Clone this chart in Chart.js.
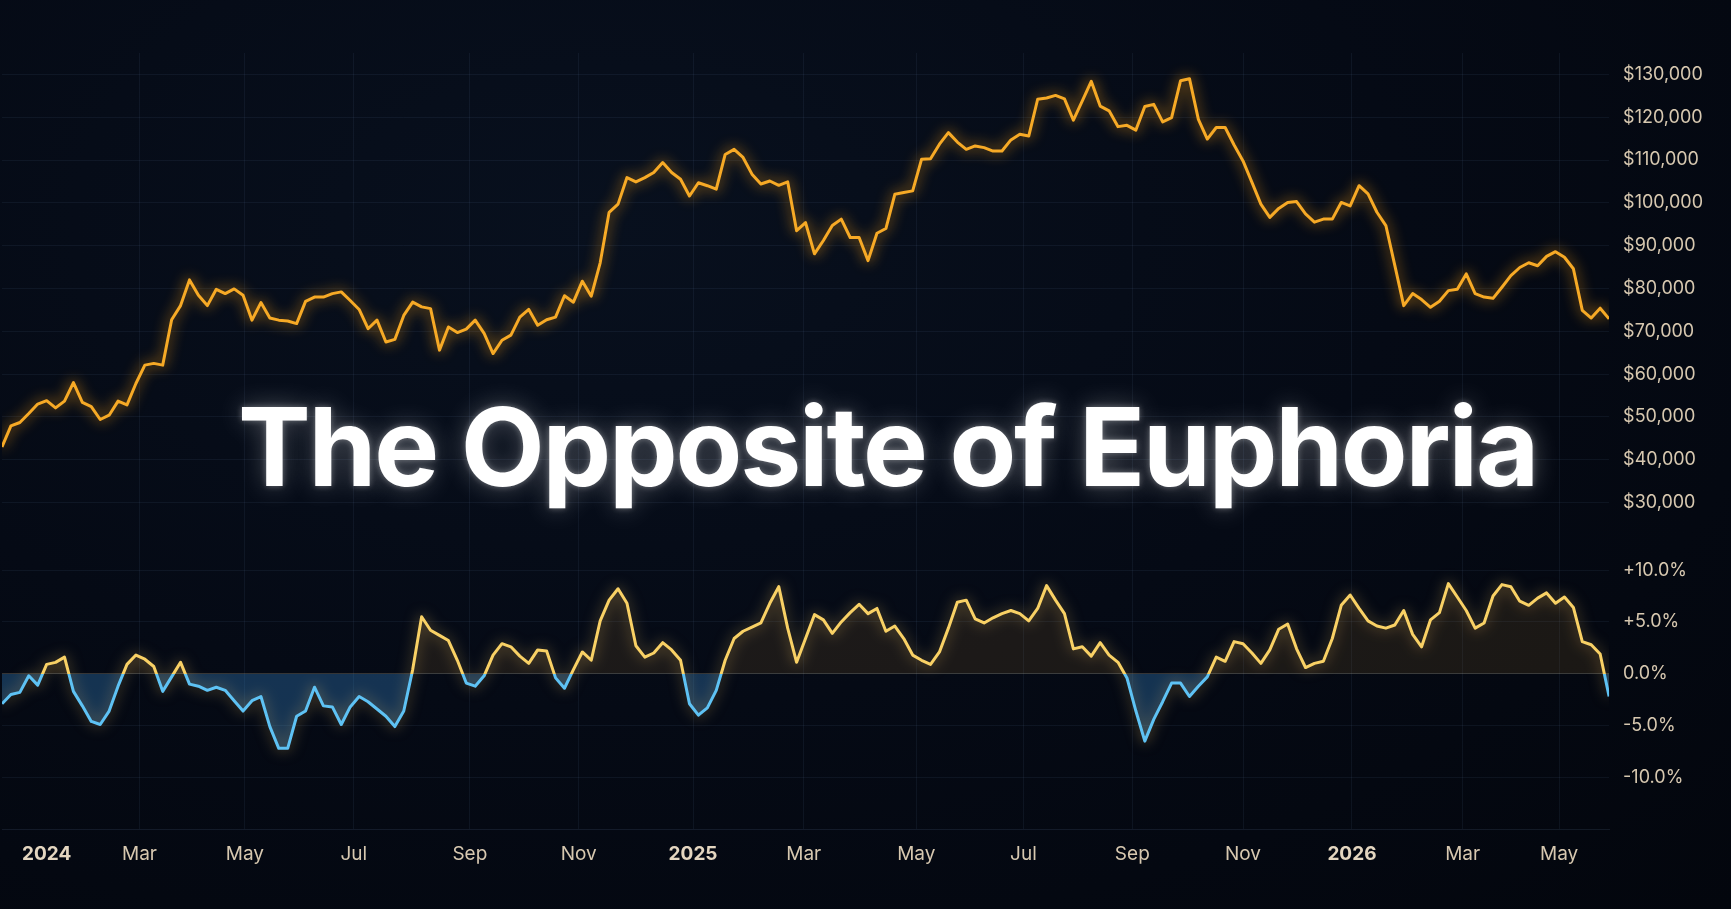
<!DOCTYPE html>
<html>
<head>
<meta charset="utf-8">
<title>The Opposite of Euphoria</title>
<script src="https://cdn.jsdelivr.net/npm/chart.js@4.4.1/dist/chart.umd.min.js"></script>
<style>
  html, body { margin: 0; padding: 0; background: #040912; }
  #wrap {
    position: relative; width: 1731px; height: 909px; overflow: hidden;
    background: radial-gradient(ellipse at 35% 25%, #08101e 0%, #050a15 50%, #03060d 100%);
  }
  #chart { position: absolute; left: 0; top: 0; }
  #title {
    position: absolute; left: 238px; top: 392px;
    font: 700 109px Inter, "Noto Sans", sans-serif;
    line-height: 109px; letter-spacing: -0.02em; white-space: nowrap;
    color: #ffffff;
    text-shadow: 0 0 26px rgba(255,255,255,0.30), 0 0 6px rgba(255,255,255,0.35);
  }
</style>
</head>
<body>
<div id="wrap">
  <canvas id="chart" width="1731" height="909"></canvas>
  <div id="title">The Opposite of Euphoria</div>
</div>
<script>
// one sample every 5 days, day 0 = 1 Jan 2024
const firstDay = -25;
const stepDays = 5;

// price, USD
const priceUsd = [
  43000, 47900, 48700, 50800, 53000, 53800, 52100, 53700, 58000, 53400,
  52400, 49400, 50400, 53700, 52800, 57800, 62100, 62500, 62100, 72700,
  76000, 82000, 78400, 76000, 79800, 78800, 79900, 78400, 72600, 76700,
  73100, 72600, 72400, 71800, 77000, 78000, 78000, 78800, 79200, 77200,
  75100, 70600, 72600, 67500, 68100, 73700, 76800, 75700, 75300, 65600,
  71000, 69700, 70500, 72600, 69500, 64800, 67900, 69100, 73300, 75100,
  71400, 72700, 73300, 78300, 76800, 81700, 78200, 86000, 97800, 99700,
  105900, 104900, 105900, 107100, 109400, 107100, 105500, 101600, 104700, 104000,
  103200, 111300, 112500, 110600, 106700, 104400, 105100, 104100, 104900, 93500,
  95400, 88100, 91200, 94700, 96200, 91900, 91900, 86500, 92900, 94000,
  102000, 102400, 102800, 110200, 110300, 113700, 116400, 114200, 112500, 113300,
  112900, 112100, 112100, 114700, 116000, 115600, 124200, 124500, 125100, 124300,
  119300, 123800, 128400, 122600, 121500, 117800, 118100, 117000, 122500, 123000,
  118900, 119900, 128500, 129000, 119500, 114900, 117600, 117600, 113500, 109800,
  104800, 99700, 96600, 98700, 100100, 100300, 97400, 95500, 96200, 96200,
  100100, 99300, 104000, 102100, 97800, 94700, 85400, 76000, 78800, 77400,
  75600, 77000, 79500, 79800, 83400, 78800, 78000, 77700, 80300, 83000,
  84900, 86000, 85300, 87500, 88600, 87300, 84600, 74900, 73100, 75400,
  72900
];

// deviation, %
const deviationPct = [
  -2.9, -2.0, -1.8, -0.2, -1.1, 0.9, 1.1, 1.6, -1.7, -3.1,
  -4.6, -4.9, -3.6, -1.2, 0.9, 1.8, 1.4, 0.7, -1.7, -0.3,
  1.1, -1.0, -1.2, -1.6, -1.3, -1.6, -2.6, -3.6, -2.6, -2.2,
  -5.1, -7.2, -7.2, -4.1, -3.6, -1.3, -3.1, -3.2, -4.9, -3.2,
  -2.2, -2.7, -3.4, -4.1, -5.1, -3.6, 0.4, 5.5, 4.2, 3.7,
  3.2, 1.3, -0.9, -1.2, -0.2, 1.8, 2.9, 2.6, 1.7, 1.0,
  2.3, 2.2, -0.4, -1.4, 0.4, 2.1, 1.3, 5.1, 7.1, 8.2,
  6.8, 2.7, 1.6, 2.0, 3.0, 2.3, 1.3, -2.9, -4.0, -3.3,
  -1.6, 1.3, 3.4, 4.1, 4.5, 4.9, 6.8, 8.4, 4.4, 1.1,
  3.4, 5.7, 5.2, 3.9, 5.0, 5.9, 6.7, 5.8, 6.3, 4.1,
  4.6, 3.4, 1.8, 1.3, 0.9, 2.1, 4.4, 6.9, 7.1, 5.3,
  4.9, 5.4, 5.8, 6.1, 5.8, 5.1, 6.3, 8.5, 7.1, 5.8,
  2.4, 2.6, 1.7, 3.0, 1.8, 1.1, -0.4, -3.6, -6.5, -4.4,
  -2.7, -0.9, -0.9, -2.2, -1.2, -0.3, 1.6, 1.2, 3.1, 2.9,
  2.0, 1.0, 2.3, 4.3, 4.8, 2.4, 0.6, 1.0, 1.2, 3.4,
  6.6, 7.6, 6.3, 5.1, 4.6, 4.4, 4.7, 6.1, 3.8, 2.6,
  5.2, 5.9, 8.7, 7.4, 6.1, 4.4, 4.9, 7.5, 8.6, 8.4,
  7.0, 6.6, 7.3, 7.8, 6.8, 7.4, 6.4, 3.1, 2.8, 1.9,
  -2.2
];

// x axis ticks (day offsets as placed on the picture) and their labels
const monthTickDays = [0, 52, 111, 172, 237, 298, 362, 424, 487, 547, 608, 670, 731, 793, 847];
const monthTickLabels = ["2024", "Mar", "May", "Jul", "Sep", "Nov", "2025", "Mar", "May", "Jul", "Sep", "Nov", "2026", "Mar", "May"];
const priceTicks = [30000, 40000, 50000, 60000, 70000, 80000, 90000, 100000, 110000, 120000, 130000];
const pctTicks = [-10, -5, 0, 5, 10];

const gold = "#f7aa26";
const yellow = "#f9d165";
const blue = "#5ec2f4";
const labelColor = "#d7c8b0";
const gridColor = "rgba(110,140,185,0.09)";

const priceData = priceUsd.map((v, i) => ({ x: firstDay + i * stepDays, y: v }));
const deviationData = deviationPct.map((v, i) => ({ x: firstDay + i * stepDays, y: v }));

// yellow above zero, blue below
function splitColor(ctx) {
  const chart = ctx.chart;
  const area = chart.chartArea;
  if (!area) return yellow;
  const y0 = chart.scales.yPct.getPixelForValue(0);
  const t = Math.min(1, Math.max(0, (y0 - area.top) / (area.bottom - area.top)));
  const g = chart.ctx.createLinearGradient(0, area.top, 0, area.bottom);
  g.addColorStop(0, yellow);
  g.addColorStop(t, yellow);
  g.addColorStop(t, blue);
  g.addColorStop(1, blue);
  return g;
}

// soft glow behind the lines (fill is drawn before this runs)
const glowPlugin = {
  id: "glow",
  beforeDatasetDraw(chart, args) {
    const ds = chart.data.datasets[args.index];
    chart.ctx.save();
    chart.ctx.shadowColor = ds.glowColor;
    chart.ctx.shadowBlur = 14;
  },
  afterDatasetDraw(chart) {
    chart.ctx.restore();
  }
};

new Chart(document.getElementById("chart"), {
  type: "line",
  data: {
    datasets: [
      {
        label: "Price",
        data: priceData,
        yAxisID: "yPrice",
        borderColor: gold,
        glowColor: "rgba(255,165,20,0.9)",
        borderWidth: 3,
        borderJoinStyle: "round",
        pointRadius: 0,
        tension: 0,
        fill: false
      },
      {
        label: "Deviation",
        data: deviationData,
        yAxisID: "yPct",
        borderColor: splitColor,
        glowColor: "rgba(250,200,100,0.55)",
        borderWidth: 3,
        borderJoinStyle: "round",
        pointRadius: 0,
        tension: 0,
        fill: {
          target: { value: 0 },
          above: "rgba(235,170,60,0.10)",
          below: "rgba(60,150,225,0.30)"
        }
      }
    ]
  },
  options: {
    responsive: false,
    animation: false,
    devicePixelRatio: 1,
    layout: { padding: { left: 2, right: 14, top: 53, bottom: 29 } },
    plugins: {
      legend: { display: false },
      tooltip: { enabled: false }
    },
    scales: {
      x: {
        type: "linear",
        min: -25,
        max: 875,
        afterBuildTicks: (axis) => { axis.ticks = monthTickDays.map(v => ({ value: v })); },
        grid: {
          color: (ctx) => (ctx.tick && ctx.tick.value === 0) ? "rgba(0,0,0,0)" : gridColor,
          drawTicks: false
        },
        border: { display: true, color: "rgba(110,140,185,0.14)" },
        ticks: {
          autoSkip: false,
          maxRotation: 0,
          padding: 14,
          callback: (value) => monthTickLabels[monthTickDays.indexOf(value)],
          color: (ctx) => /^\d{4}$/.test(monthTickLabels[ctx.index]) ? "#e4d6c0" : labelColor,
          font: (ctx) => ({
            family: "Inter, 'Noto Sans', sans-serif",
            size: 19,
            weight: /^\d{4}$/.test(monthTickLabels[ctx.index]) ? "700" : "400"
          })
        }
      },
      yPrice: {
        type: "linear",
        position: "right",
        stack: "panels",
        stackWeight: 1.694,
        min: 21000,
        max: 135000,
        afterBuildTicks: (axis) => { axis.ticks = priceTicks.map(v => ({ value: v })); },
        grid: { color: gridColor, drawTicks: false },
        border: { display: false },
        ticks: {
          padding: 14,
          color: labelColor,
          font: { family: "Inter, 'Noto Sans', sans-serif", size: 18 },
          callback: (v) => "$" + v.toLocaleString("en-US")
        }
      },
      yPct: {
        type: "linear",
        position: "right",
        stack: "panels",
        stackWeight: 1,
        min: -15,
        max: 12.8,
        afterBuildTicks: (axis) => { axis.ticks = pctTicks.map(v => ({ value: v })); },
        grid: {
          color: (ctx) => (ctx.tick && ctx.tick.value === 0) ? "rgba(215,195,160,0.22)" : gridColor,
          drawTicks: false
        },
        border: { display: false },
        ticks: {
          padding: 14,
          color: labelColor,
          font: { family: "Inter, 'Noto Sans', sans-serif", size: 18 },
          callback: (v) => (v > 0 ? "+" : "") + v.toFixed(1) + "%"
        }
      }
    }
  },
  plugins: [glowPlugin]
});
</script>
</body>
</html>
